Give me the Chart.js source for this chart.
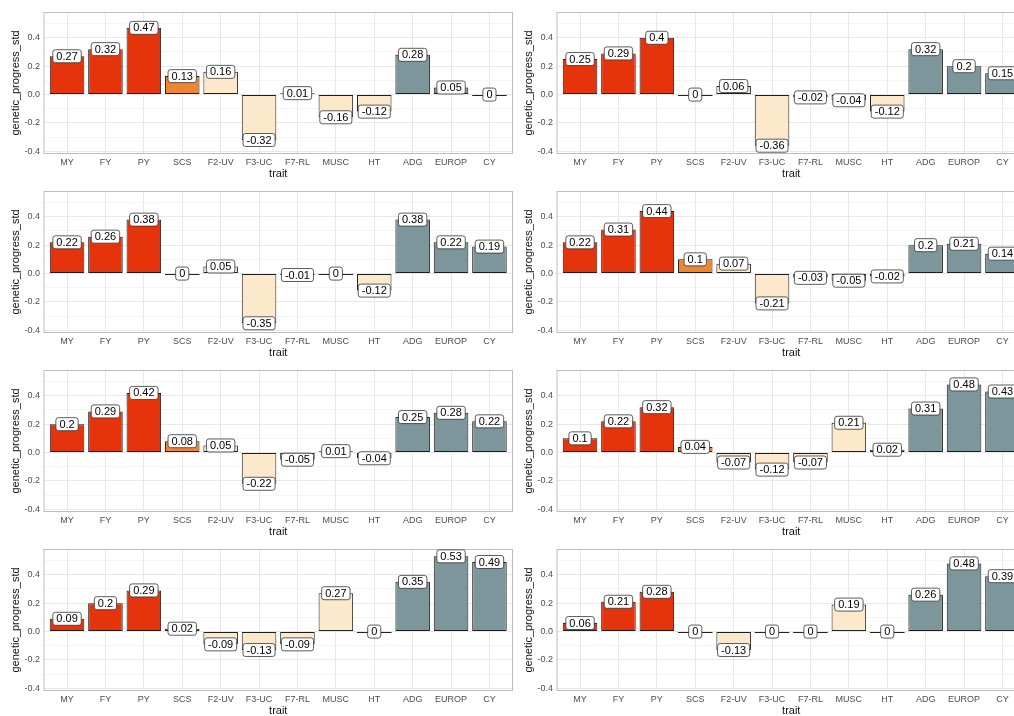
<!DOCTYPE html>
<html>
<head>
<meta charset="utf-8">
<script src="https://cdn.jsdelivr.net/npm/chart.js@4.4.0/dist/chart.umd.min.js"></script>
<style>
  html, body { margin: 0; padding: 0; background: #fff; overflow: hidden; width: 1014px; height: 716px; }
  .panel { position: absolute; width: 513px; height: 179px; }
</style>
</head>
<body>
<script>
// traits and their groups
const traits = ['MY', 'FY', 'PY', 'SCS', 'F2-UV', 'F3-UC', 'F7-RL', 'MUSC', 'HT', 'ADG', 'EUROP', 'CY'];
const traitGroup = ['dairy', 'dairy', 'dairy', 'scs', 'type', 'type', 'type', 'type', 'type', 'beef', 'beef', 'beef'];
const groupColors = { dairy: '#E5330B', scs: '#EE8530', type: '#FCE8CA', beef: '#7C969C' };

// genetic_progress_std per panel (row by row, left then right)
const gp1 = [0.27, 0.32, 0.47, 0.13, 0.16, -0.32, 0.01, -0.16, -0.12, 0.28, 0.05, 0];
const gp2 = [0.25, 0.29, 0.4, 0, 0.06, -0.36, -0.02, -0.04, -0.12, 0.32, 0.2, 0.15];
const gp3 = [0.22, 0.26, 0.38, 0, 0.05, -0.35, -0.01, 0, -0.12, 0.38, 0.22, 0.19];
const gp4 = [0.22, 0.31, 0.44, 0.1, 0.07, -0.21, -0.03, -0.05, -0.02, 0.2, 0.21, 0.14];
const gp5 = [0.2, 0.29, 0.42, 0.08, 0.05, -0.22, -0.05, 0.01, -0.04, 0.25, 0.28, 0.22];
const gp6 = [0.1, 0.22, 0.32, 0.04, -0.07, -0.12, -0.07, 0.21, 0.02, 0.31, 0.48, 0.43];
const gp7 = [0.09, 0.2, 0.29, 0.02, -0.09, -0.13, -0.09, 0.27, 0, 0.35, 0.53, 0.49];
const gp8 = [0.06, 0.21, 0.28, 0, -0.13, 0, 0, 0.19, 0, 0.26, 0.48, 0.39];
const panels = [gp1, gp2, gp3, gp4, gp5, gp6, gp7, gp8];

// y ticks (major every 0.2 labelled, minor in between)
const yTicks = [-0.4, -0.3, -0.2, -0.1, 0, 0.1, 0.2, 0.3, 0.4, 0.5];

const FONT = '"Liberation Sans", Arial, sans-serif';
const isMajor = v => Math.abs(Math.round(v * 10)) % 2 === 0;

// panel border (theme_light)
const panelBorder = {
    id: 'panelBorder',
    beforeDatasetsDraw(chart) {
        const { ctx, chartArea: a } = chart;
        ctx.save();
        ctx.strokeStyle = '#BDBDBD';
        ctx.lineWidth = 1;
        ctx.strokeRect(a.left, a.top, a.right - a.left, a.bottom - a.top);
        ctx.restore();
    }
};

// labels like geom_label + zero-height bars drawn as a line
const valueLabels = {
    id: 'valueLabels',
    afterDatasetsDraw(chart) {
        const ctx = chart.ctx;
        const meta = chart.getDatasetMeta(0);
        const data = chart.data.datasets[0].data;
        ctx.save();
        meta.data.forEach((bar, i) => {
            if (data[i].y === 0) {
                const yy = Math.round(bar.y) + 0.5;
                ctx.strokeStyle = '#222';
                ctx.lineWidth = 1;
                ctx.beginPath();
                ctx.moveTo(bar.x - bar.width / 2, yy);
                ctx.lineTo(bar.x + bar.width / 2, yy);
                ctx.stroke();
            }
        });
        ctx.font = '11px ' + FONT;
        ctx.textAlign = 'center';
        ctx.textBaseline = 'middle';
        meta.data.forEach((bar, i) => {
            const text = String(data[i].y);
            const w = ctx.measureText(text).width + 7;
            const h = 13;
            const x0 = bar.x - w / 2;
            const y0 = bar.y - h / 2;
            ctx.beginPath();
            ctx.roundRect(x0, y0, w, h, 2.5);
            ctx.fillStyle = '#fff';
            ctx.fill();
            ctx.strokeStyle = '#333';
            ctx.lineWidth = 0.8;
            ctx.stroke();
            ctx.fillStyle = '#000';
            ctx.fillText(text, bar.x, bar.y + 0.5);
        });
        ctx.restore();
    }
};

function makePanel(values, index) {
    const div = document.createElement('div');
    div.className = 'panel';
    div.style.left = (index % 2) * 513 + 'px';
    div.style.top = Math.floor(index / 2) * 179 + 'px';
    const canvas = document.createElement('canvas');
    canvas.width = 513;
    canvas.height = 179;
    div.appendChild(canvas);
    document.body.appendChild(div);

    new Chart(canvas, {
        type: 'bar',
        data: {
            datasets: [{
                data: values.map((v, i) => ({ x: i, y: v })),
                backgroundColor: traitGroup.map(g => groupColors[g]),
                borderColor: '#1E1E1E',
                borderWidth: 1,
                borderSkipped: false,
                categoryPercentage: 1,
                barPercentage: 0.9
            }]
        },
        options: {
            responsive: false,
            animation: false,
            devicePixelRatio: 1,
            layout: { padding: { top: 12.5, right: 0.5, bottom: 0, left: 0 } },
            plugins: {
                legend: { display: false },
                tooltip: { enabled: false }
            },
            scales: {
                x: {
                    type: 'linear',
                    offset: false,
                    min: -0.6,
                    max: 11.6,
                    afterBuildTicks: s => { s.ticks = traits.map((t, i) => ({ value: i })); },
                    afterFit: s => { s.height = 25.5; },
                    ticks: {
                        padding: 4,
                        autoSkip: false,
                        maxRotation: 0,
                        color: '#4D4D4D',
                        font: { size: 9, family: FONT },
                        callback: v => traits[v]
                    },
                    grid: { offset: false, drawTicks: false, color: '#E8E8E8', lineWidth: 1 },
                    border: { display: false },
                    title: {
                        display: true,
                        text: 'trait',
                        color: '#111',
                        font: { size: 11, family: FONT, lineHeight: 1 },
                        padding: { top: 0, bottom: 0 }
                    }
                },
                y: {
                    min: -0.415,
                    max: 0.578,
                    afterBuildTicks: s => { s.ticks = yTicks.map(v => ({ value: v })); },
                    afterFit: s => { s.width = 44; },
                    ticks: {
                        padding: 4,
                        autoSkip: false,
                        color: '#4D4D4D',
                        font: { size: 9, family: FONT },
                        callback: v => isMajor(v) ? v.toFixed(1) : ''
                    },
                    grid: {
                        drawTicks: false,
                        color: c => isMajor(c.tick.value) ? '#E8E8E8' : '#F3F3F3',
                        lineWidth: c => isMajor(c.tick.value) ? 1 : 0.8
                    },
                    border: { display: false },
                    title: {
                        display: true,
                        text: 'genetic_progress_std',
                        color: '#111',
                        font: { size: 11, family: FONT, lineHeight: 1 },
                        padding: { top: 10, bottom: 0 }
                    }
                }
            }
        },
        plugins: [panelBorder, valueLabels]
    });
}

panels.forEach((values, i) => makePanel(values, i));
</script>
</body>
</html>
